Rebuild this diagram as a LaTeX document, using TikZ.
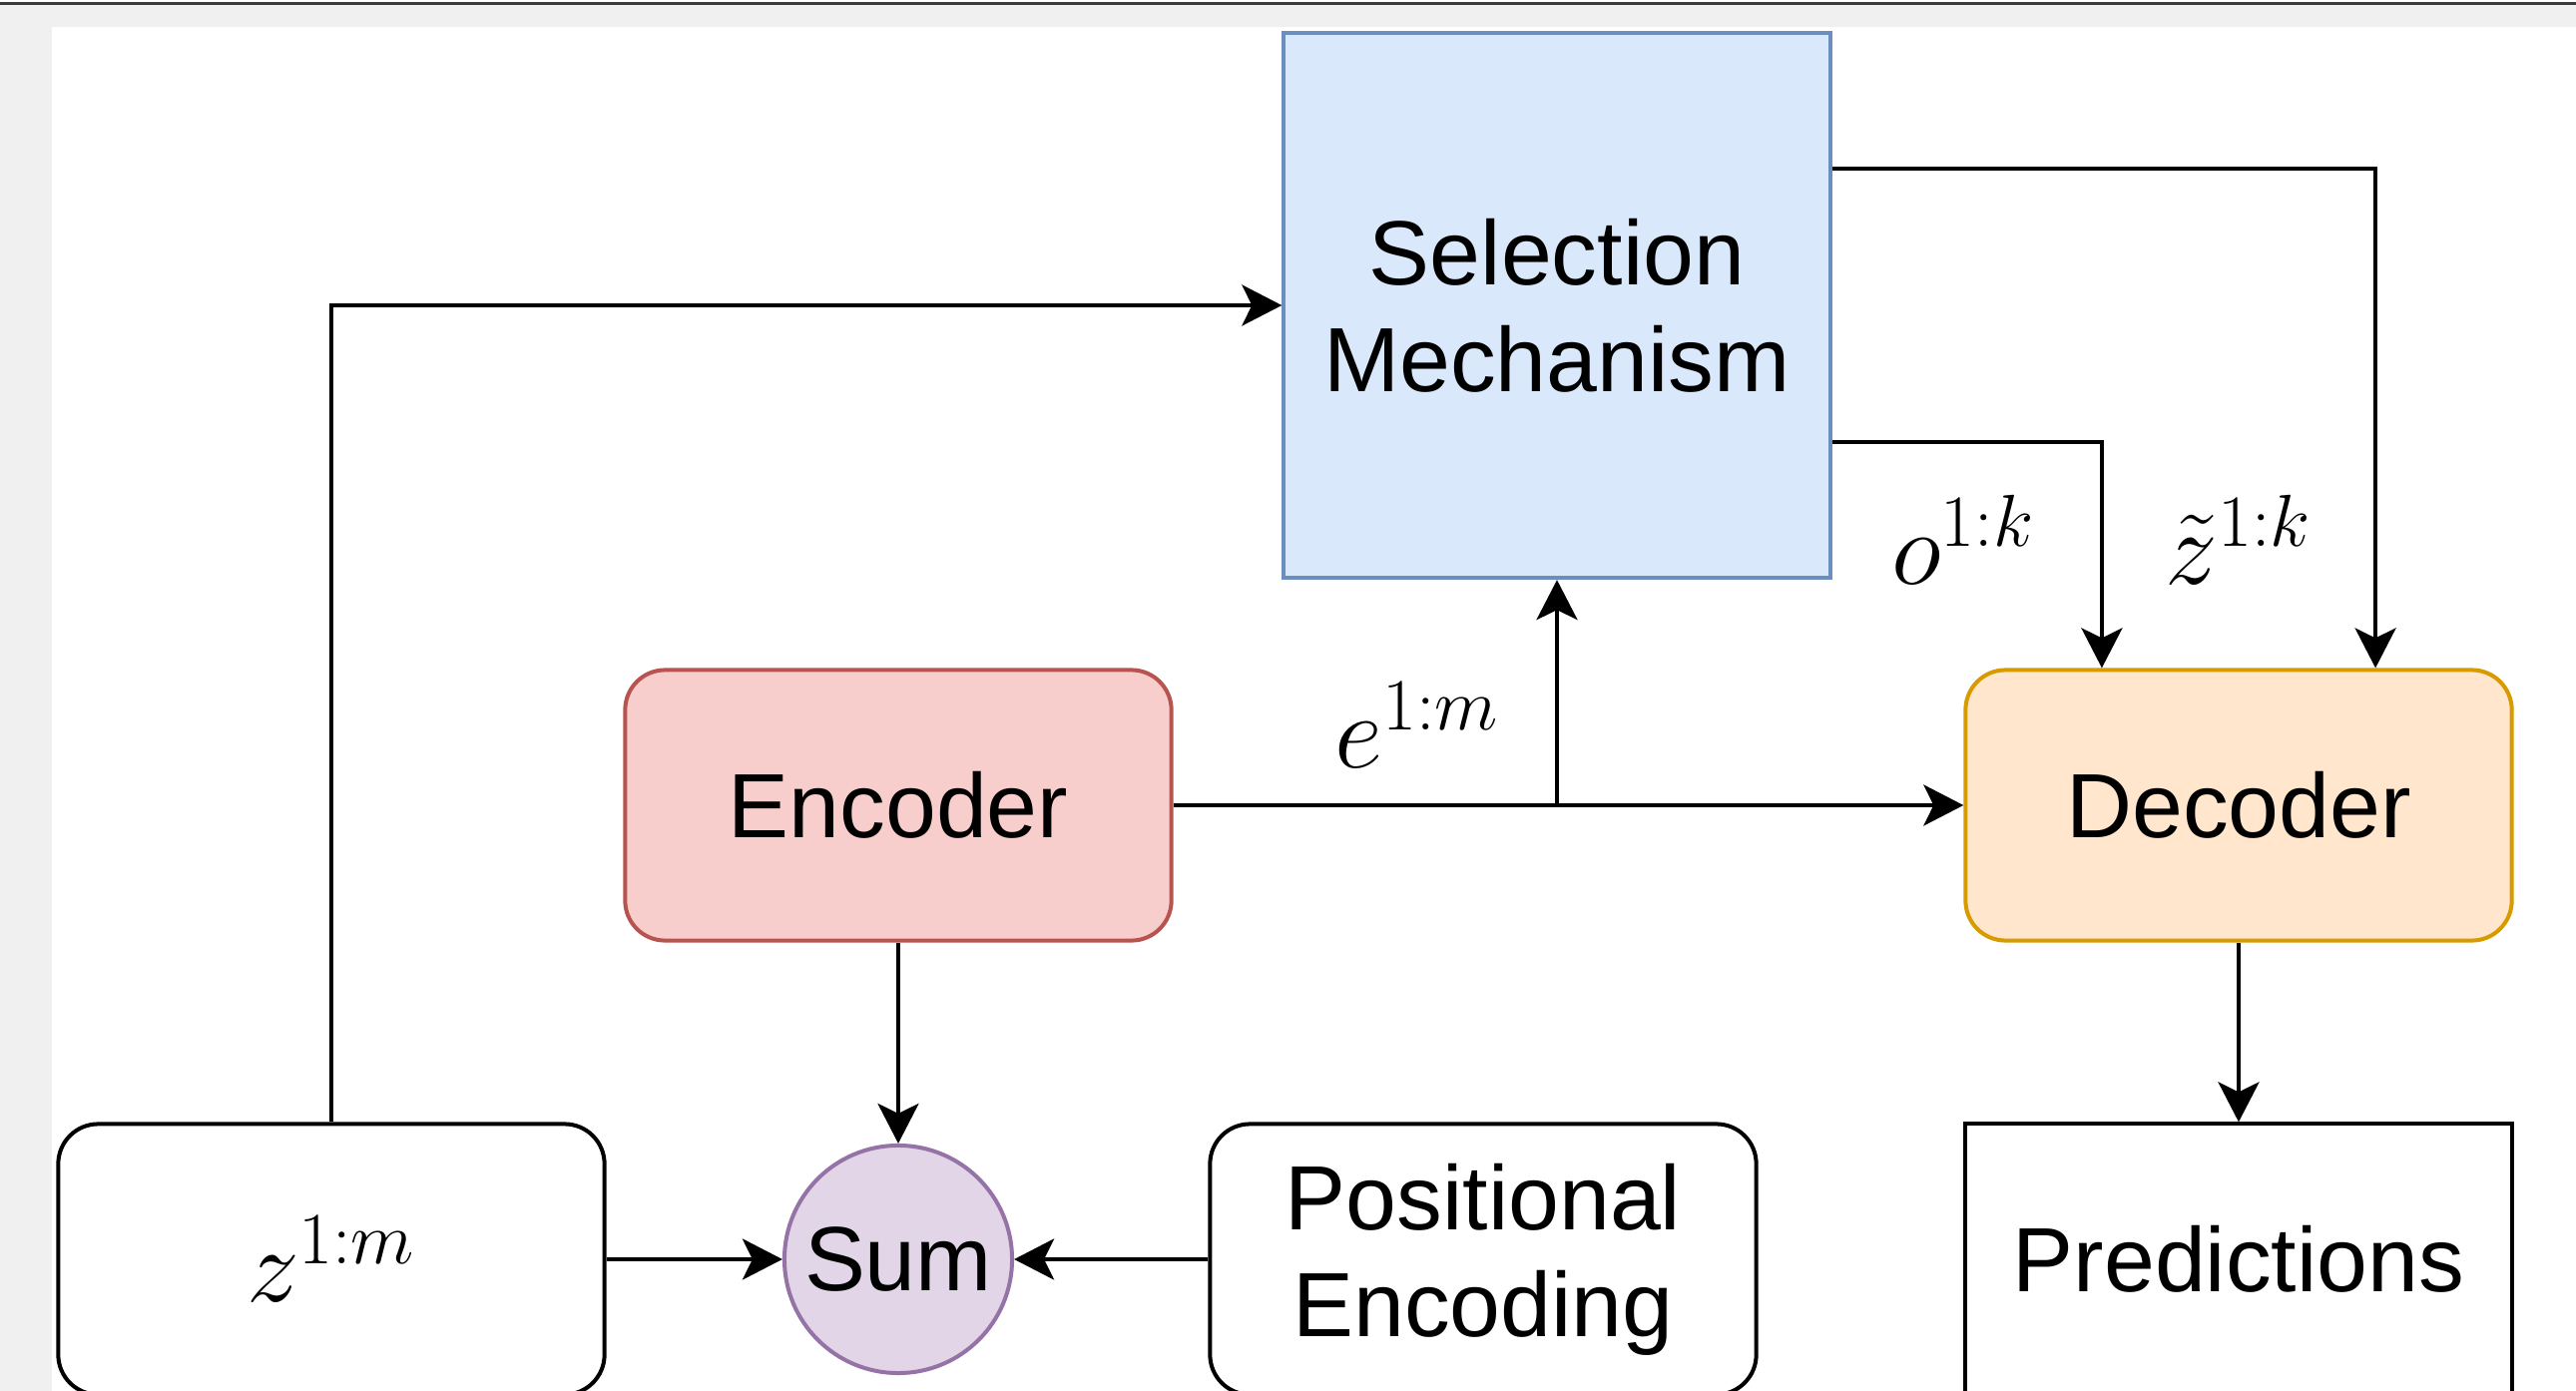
\RequirePackage{fix-cm}
\documentclass[tikz,border=0pt]{standalone}
\usepackage[no-math]{fontspec}
\setmainfont{Liberation Sans}
\usetikzlibrary{arrows.meta}
\definecolor{node_blue}{HTML}{DAE8FC}
\definecolor{edge_blue}{HTML}{6C8EBF}
\definecolor{node_red}{HTML}{F8CECC}
\definecolor{edge_red}{HTML}{B85450}
\definecolor{node_orange}{HTML}{FFE6CC}
\definecolor{edge_orange}{HTML}{D79B00}
\definecolor{node_purple}{HTML}{E1D5E7}
\definecolor{edge_purple}{HTML}{9673A6}
\definecolor{page_grey}{HTML}{F0F0F0}
\definecolor{rule_grey}{HTML}{3C3C3C}

\begin{document}
\begin{tikzpicture}[->,>={Stealth[length=0.4cm,width=0.41cm,inset=0.1cm]},line width=0.04cm,x=0.01cm,y=-0.01cm]
    \tikzstyle{mathlbl}=[text=black,inner sep=0pt,font=\fontsize{30}{36}\selectfont]
    \tikzstyle{block}=[draw,minimum width=5.47cm,minimum height=2.71cm,inner sep=0pt,align=center,text=black,font=\fontsize{26}{30.5}\selectfont]
    \tikzstyle{blockrd}=[style=block,rounded corners=0.4cm]
    \tikzstyle{selbox}=[style=block,minimum height=5.46cm,fill=node_blue,draw=edge_blue]
    \tikzstyle{encbox}=[style=blockrd,fill=node_red,draw=edge_red]
    \tikzstyle{decbox}=[style=blockrd,fill=node_orange,draw=edge_orange]
    \tikzstyle{sumnode}=[draw,circle,minimum size=2.28cm,inner sep=0pt,fill=node_purple,draw=edge_purple,font=\fontsize{26}{30.5}\selectfont]

    % page
    \useasboundingbox (0,0) rectangle (2581,1394);
    \fill[white] (0,0) rectangle (2581,1394);
    \fill[page_grey] (0,5) rectangle (2581,1394);
    \fill[rule_grey] (0,1.7) rectangle (2581,5);
    \fill[white] (52,27) rectangle (2581,1394);

    \node[selbox]  (sel)  at (1560,306)  {Selection\\Mechanism};
    \node[encbox]  (enc)  at (900,807)   {Encoder};
    \node[decbox]  (dec)  at (2243,807)  {Decoder};
    \node[blockrd,font=\fontsize{30}{36}\selectfont] (z) at (332,1262) {$z^{1:m}$};
    \node[sumnode] (sum)  at (900,1262)  {Sum};
    \node[blockrd] (pos)  at (1486,1262) {Positional\\Encoding};
    \node[block]   (pred) at (2243,1262) {Predictions};

    \node[mathlbl] (elbl)  at (1420,727) {$e^{1:m}$};
    \node[mathlbl] (olbl)  at (1967,541) {$o^{1:k}$};
    \node[mathlbl] (ztlbl) at (2243,541) {$\tilde{z}^{1:k}$};

    \path
     (enc) edge (dec)
     (enc) edge (sum)
     (z)   edge (sum)
     (pos) edge (sum)
     (dec) edge (pred);
    \draw (sel.south |- enc.east) -- (sel.south);
    \draw (z.north) |- (sel.west);
    \draw ([yshift=1.37cm]sel.east) -| ([xshift=1.37cm]dec.north);
    \draw ([yshift=-1.37cm]sel.east) -| ([xshift=-1.37cm]dec.north);
\end{tikzpicture}
\end{document}
